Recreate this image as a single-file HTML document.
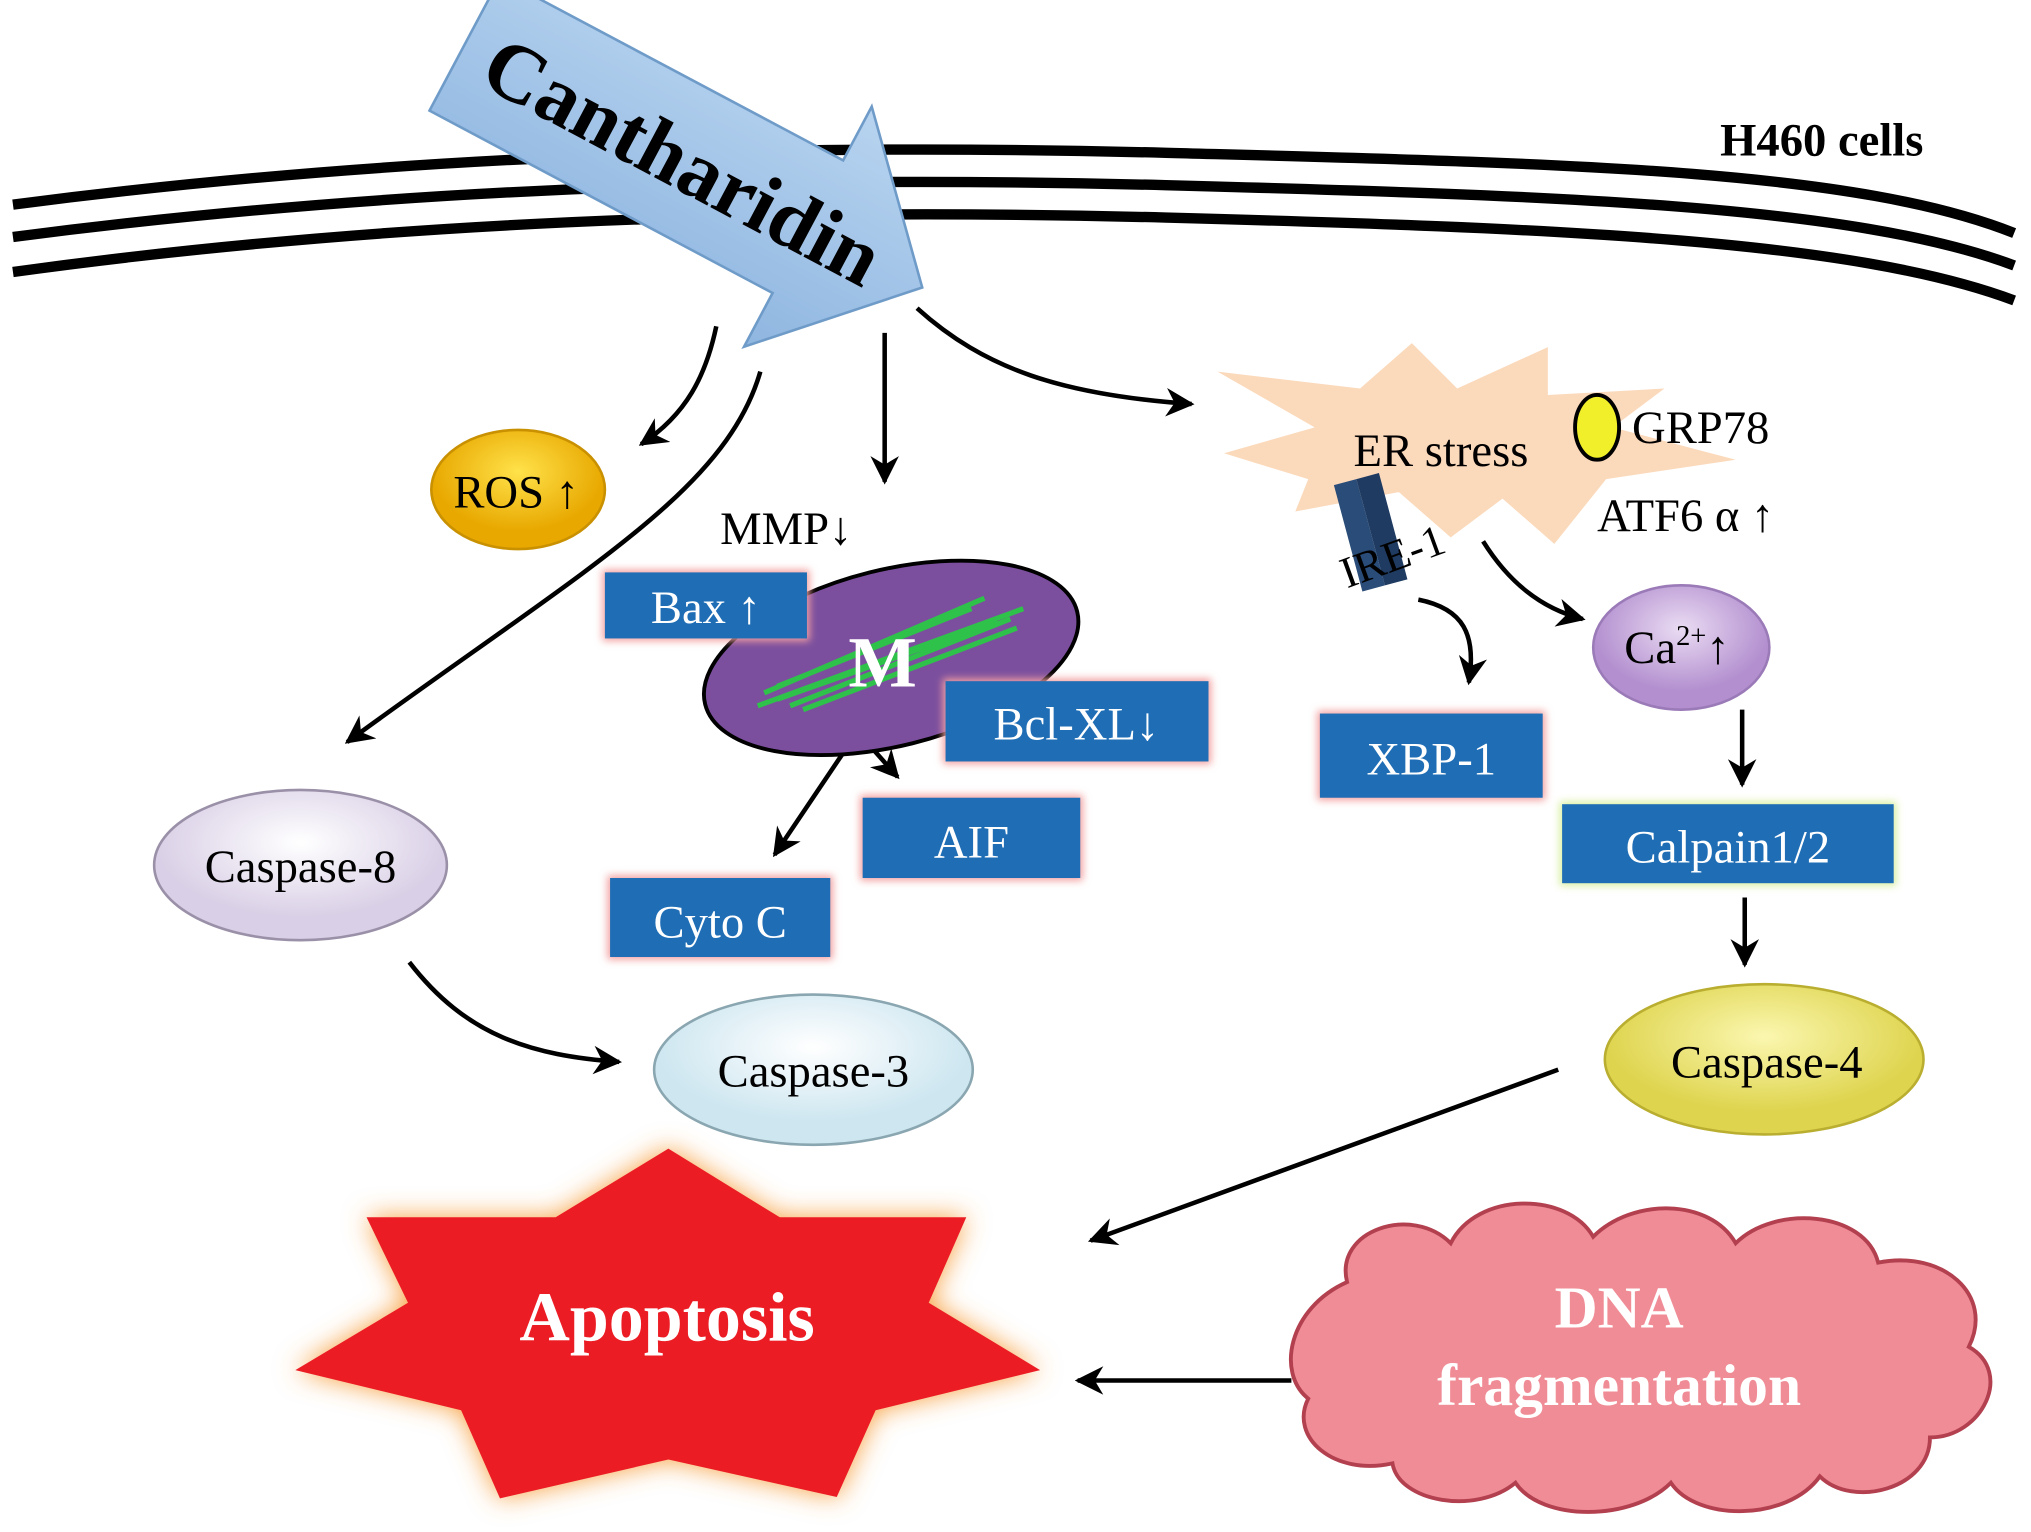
<!DOCTYPE html>
<html><head><meta charset="utf-8"><style>html,body{margin:0;padding:0;background:#fff}svg{display:block}text{font-family:"Liberation Serif",serif}</style></head><body>
<svg width="2031" height="1532" viewBox="0 0 1568 1183" preserveAspectRatio="none" xmlns="http://www.w3.org/2000/svg">
<defs>
<marker id="b" viewBox="0 0 10 10" markerWidth="22" markerHeight="22" refX="9" refY="5" orient="auto" markerUnits="userSpaceOnUse"><path d="M0,0 L10,5 L0,10 L3,5Z" fill="#000"/></marker>
<filter id="g" x="-20%" y="-20%" width="140%" height="140%"><feGaussianBlur stdDeviation="3"/></filter>
<filter id="g2" x="-20%" y="-20%" width="140%" height="140%"><feGaussianBlur stdDeviation="10"/></filter>
<radialGradient id="ros" cx="50%" cy="35%"><stop offset="0" stop-color="#ffe24a"/><stop offset="1" stop-color="#e8a800"/></radialGradient>
<radialGradient id="c8" cx="50%" cy="35%"><stop offset="0" stop-color="#fff"/><stop offset="1" stop-color="#d9cfe6"/></radialGradient>
<radialGradient id="c3" cx="50%" cy="35%"><stop offset="0" stop-color="#fff"/><stop offset="1" stop-color="#cde6f0"/></radialGradient>
<radialGradient id="c4" cx="50%" cy="35%"><stop offset="0" stop-color="#fbf7b0"/><stop offset="1" stop-color="#ded44e"/></radialGradient>
<radialGradient id="ca" cx="50%" cy="35%"><stop offset="0" stop-color="#eadcf3"/><stop offset="1" stop-color="#b38fcf"/></radialGradient>
<linearGradient id="ar" x1="0" y1="0" x2="0" y2="1"><stop offset="0" stop-color="#b8d4f0"/><stop offset="1" stop-color="#8fb6e0"/></linearGradient>
</defs>
<!-- membrane -->
<g fill="none" stroke="#000" stroke-width="8">
<path d="M10,158 C300,120 600,110 900,118 C1200,126 1430,130 1555,180"/>
<path d="M10,183 C300,145 600,135 900,143 C1200,151 1430,158 1555,205"/>
<path d="M10,210 C300,170 600,160 900,168 C1200,176 1430,185 1555,232"/>
</g>
<text x="1328" y="120" font-size="36" font-weight="bold">H460 cells</text>
<!-- cantharidin arrow -->
<g transform="translate(712,222) rotate(28)">
<path d="M-400,-58 L-100,-58 L-100,-105 L0,0 L-100,105 L-100,58 L-400,58 Z" fill="url(#ar)" stroke="#6f9bc8" stroke-width="2"/>
<text x="-378" y="22" font-size="64" font-weight="bold">Cantharidin</text>
</g>
<!-- arrows -->
<g fill="none" stroke="#000" stroke-width="3.5" marker-end="url(#b)">
<path d="M553,252 C545,290 530,320 495,343"/>
<path d="M587,287 C560,380 450,440 268,573"/>
<path d="M683,257 L683,372"/>
<path d="M708,238 C760,285 820,305 920,312"/>
<path d="M662,565 L598,660"/>
<path d="M662,565 L693,600"/>
<path d="M1095,463 C1130,470 1140,490 1134,527"/>
<path d="M1145,418 C1165,450 1190,470 1222,478"/>
<path d="M1345,548 L1345,606"/>
<path d="M1347,693 L1347,745"/>
<path d="M316,743 C360,800 410,815 478,820"/>
<path d="M1203,826 L842,958"/>
<path d="M997,1066 L832,1066"/>
</g>
<!-- ROS -->
<ellipse cx="400" cy="378" rx="67" ry="46" fill="url(#ros)" stroke="#c99000" stroke-width="2"/>
<text x="350" y="392" font-size="36">ROS ↑</text>
<text x="556" y="420" font-size="36">MMP↓</text>
<!-- mito -->
<ellipse cx="688" cy="508" rx="148" ry="68" transform="rotate(-14 688 508)" fill="#7b4f9e" stroke="#000" stroke-width="3"/>
<g stroke="#2fc24a" stroke-width="4">
<path d="M585,545 L790,470 M600,540 L770,480 M590,535 L760,462 M620,548 L785,485 M600,530 L750,470 M610,545 L780,478"/>
</g>
<text x="655" y="530" font-size="56" font-weight="bold" fill="#fff">M</text>
<!-- boxes -->
<g>
<rect x="465" y="440" width="160" height="55" fill="#f3a0a0" filter="url(#g)"/><rect x="467" y="442" width="156" height="51" fill="#1e6db5"/>
<text x="545" y="481" font-size="36" fill="#fff" text-anchor="middle">Bax ↑</text>
<rect x="728" y="524" width="207" height="66" fill="#f3a0a0" filter="url(#g)"/><rect x="730" y="526" width="203" height="62" fill="#1e6db5"/>
<text x="831" y="571" font-size="36" fill="#fff" text-anchor="middle">Bcl-XL↓</text>
<rect x="664" y="614" width="172" height="66" fill="#f3a0a0" filter="url(#g)"/><rect x="666" y="616" width="168" height="62" fill="#1e6db5"/>
<text x="750" y="662" font-size="36" fill="#fff" text-anchor="middle">AIF</text>
<rect x="469" y="676" width="174" height="65" fill="#f3a0a0" filter="url(#g)"/><rect x="471" y="678" width="170" height="61" fill="#1e6db5"/>
<text x="556" y="724" font-size="36" fill="#fff" text-anchor="middle">Cyto C</text>
<rect x="1017" y="549" width="176" height="69" fill="#f3a0a0" filter="url(#g)"/><rect x="1019" y="551" width="172" height="65" fill="#1e6db5"/>
<text x="1105" y="598" font-size="36" fill="#fff" text-anchor="middle">XBP-1</text>
<rect x="1204" y="619" width="260" height="65" fill="#d8efa0" filter="url(#g)"/><rect x="1206" y="621" width="256" height="61" fill="#1e6db5"/>
<text x="1334" y="666" font-size="36" fill="#fff" text-anchor="middle">Calpain1/2</text>
</g>
<!-- ER stress -->
<path d="M940,287 L1050,300 L1090,265 L1125,300 L1195,268 L1195,305 L1285,300 L1245,330 L1340,355 L1240,370 L1200,420 L1160,385 L1120,415 L1080,380 L1000,395 L1010,370 L945,350 L1015,330 Z" fill="#fbd9bb"/>
<text x="1045" y="360" font-size="36">ER stress</text>
<ellipse cx="1233" cy="330" rx="17" ry="25" fill="#f1ee2a" stroke="#000" stroke-width="3"/>
<text x="1260" y="342" font-size="36">GRP78</text>
<text x="1233" y="410" font-size="36">ATF6 α ↑</text>
<g transform="rotate(-15 1060 410)"><rect x="1040" y="368" width="18" height="85" fill="#2a4c78"/><rect x="1058" y="368" width="18" height="85" fill="#1f3b62"/></g>
<text x="1030" y="442" font-size="34" transform="rotate(-20 1070 420)">IRE-1</text>
<!-- Ca -->
<ellipse cx="1298" cy="500" rx="68" ry="48" fill="url(#ca)" stroke="#9b7ab8" stroke-width="2"/>
<text x="1254" y="512" font-size="36">Ca<tspan font-size="22" dy="-14">2+</tspan><tspan dy="14">↑</tspan></text>
<!-- caspases -->
<ellipse cx="232" cy="668" rx="113" ry="58" fill="url(#c8)" stroke="#9a90a8" stroke-width="2"/>
<text x="232" y="681" font-size="36" text-anchor="middle">Caspase-8</text>
<ellipse cx="628" cy="826" rx="123" ry="58" fill="url(#c3)" stroke="#8aa6b0" stroke-width="2"/>
<text x="628" y="839" font-size="36" text-anchor="middle">Caspase-3</text>
<ellipse cx="1362" cy="818" rx="123" ry="58" fill="url(#c4)" stroke="#b9ae30" stroke-width="2"/>
<text x="1364" y="832" font-size="36" text-anchor="middle">Caspase-4</text>
<!-- apoptosis star -->
<path id="st" d="M516,887 L602,940 L746,940 L717,1006 L803,1058 L676,1089 L646,1156 L516,1127 L386,1157 L356,1089 L228,1058 L315,1006 L283,940 L429,940 Z" fill="#f7a040" filter="url(#g2)"/>
<path d="M516,887 L602,940 L746,940 L717,1006 L803,1058 L676,1089 L646,1156 L516,1127 L386,1157 L356,1089 L228,1058 L315,1006 L283,940 L429,940 Z" fill="#ec1c24"/>
<text x="515" y="1035" font-size="54" font-weight="bold" fill="#fff" text-anchor="middle">Apoptosis</text>
<!-- cloud -->
<g fill="#f08c96" stroke="#b3404f" stroke-width="3">
<path d="M1040,990 C1030,950 1090,930 1120,960 C1140,920 1210,920 1230,955 C1260,925 1320,925 1340,960 C1370,930 1440,935 1450,975 C1500,965 1540,1000 1520,1040 C1555,1060 1530,1110 1490,1110 C1490,1150 1430,1165 1405,1140 C1380,1175 1310,1175 1290,1145 C1260,1175 1190,1175 1170,1145 C1140,1170 1080,1160 1075,1130 C1030,1140 995,1110 1010,1080 C985,1060 995,1010 1040,990 Z"/>
</g>
<text x="1250" y="1025" font-size="46" font-weight="bold" fill="#fff" text-anchor="middle">DNA</text>
<text x="1250" y="1085" font-size="46" font-weight="bold" fill="#fff" text-anchor="middle">fragmentation</text>
</svg>
</body></html>
